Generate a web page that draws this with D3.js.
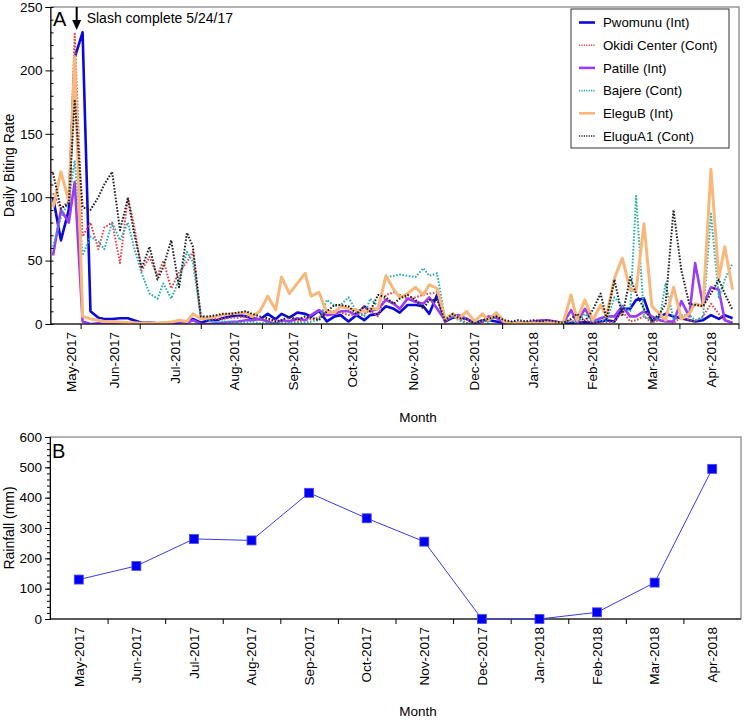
<!DOCTYPE html>
<html><head><meta charset="utf-8">
<script src="https://cdn.jsdelivr.net/npm/d3@7"></script>
<style>
body{margin:0;background:#fff}
svg{display:block}
text{font-family:"Liberation Sans",Arial,Helvetica,sans-serif;fill:#000}
</style>
</head><body>
<svg id="chart" width="744" height="722"></svg>
<script>
// ---------------- DATA ----------------
const studyStart = "2017-05-16";
// sampling days after studyStart
const sampleDay = [2,6,10,13,17,21,25,28,32,36,40,43,47,51,55,58,62,66,70,73,77,81,85,88,92,96,100,103,107,111,115,118,122,126,130,133,137,141,145,148,152,156,160,163,167,171,175,178,182,186,190,193,197,201,205,208,212,216,220,223,227,231,235,238,242,246,250,253,257,261,265,268,272,276,280,283,287,291,295,298,302,306,310,313,317,321,325,328,332,336,340,343,347];

const pwomunu = [100,66,90,210,230,10,5,4,4,4.5, 4.5,3,1,1,0.5,0.5,1,1.5,2,4, 1,3,3,4.5,6,7,6,4.5,3.7,8, 3.7,8,5,9,8,6,10.5,2,6,7, 2,7,3,7,8,14,12,9,15,15, 14,8,23,2,5,6,4,0.5,3,3, 2,1,1,0.5,1,0.5,1,0.5,1,0.5, 0.5,1,1.5,1,2,3,2,12,12,19, 20,2,6,8,6,4.5,3,2,3,7, 4,7,4.5];
const okidi = [103,91,97,229,69,80,59,76,80,48, 100,79,42,53,38,50,28,41,49,57, 6,4,4,4,5,5,6,5,4,3, 3,2,3,2,3,4,5,10,10,9, 7,8,8,11,6,23,25,23,20,21, 23,24,25,1,8,4,1,0,1,3, 7,1,0.5,1,0.5,1,0.5,1,2,1, 3,0.5,3,1,0.5,1,2,10,2,3, 6,1,3,3,0.5,6,3,2,6,16, 8,3,0.5];
const patille = [54,90,80,112,2,0,0.5,0,0.5,0, 0.5,0,0.5,1,0.5,1,0.5,2,1,3, 0,0,0.5,1,1.5,2,3,3,4,2, 0,3,2,4.5,3,7,11,7,8,10, 10,7,14,10,12,19,16,12,20,17.5, 16,21,12,3,6,7,4,0.5,2,6, 5,1,0.5,1,1,2,3,3,2,0.5, 11,1,12,2,4.5,6,6,14,6,6, 10,6,3,2,2,18,6,48,15,29, 27,3,1];
const bajere = [61,84,97,129,54,69,65,59,80,66, 80,61,40,24,20,32,20,35,57,49, 5,3,1,2,2,1,1,2,0.5,1, 0.5,1,0.5,1,1,2,3,19,14,15, 21,10,6,20,14,37,38,39,38,37, 44,38,40,4,6,3,0.5,1,3,1, 7,2,1,0.5,1,1,0.5,1,0.5,1, 2,1,8,2,3,2,21,14,10,101, 6,3,5,32,4,7,7,3,5,87, 21,35,48];
const elegub = [92,120,97,211,6,4,3,2,2,1.5, 1,1,0.5,0.5,0.5,1,1.5,3,2,8, 4,5,6,7,8,8.5,9,6,10,22, 11,37,24,32,40,22,25,9,9,14, 12,11,10,12,12,38,27,21,24,29, 23,31,28,4,8,4,10,2,8,3, 9,2,0.5,0.5,1,0.5,0.5,1,0.5,1, 23,3,19,3,15,6,36,52,27,26, 79,14,8,3,29,4,8,16,14,122, 36,61,27];
const elugua1 = [119,91,95,177,92,90,100,110,120,74, 99,73,44,61,35,45,66,29,72,61, 6,6,7,8,8,9,10,8,6,4.5, 2,3,6,3,6,5,3,10,15,15, 14,8,14,10,23,21,16,20,23,19, 12,19,19,3,8,4.5,4,0.5,3,4, 6,3,2,3,2,3,2,3,2,1, 4,8,2,11,24,4,35,6,37,24, 12,3,8,16,90,42,16,15,14,24, 35,24,11];

const seriesNames = ["Pwomunu (Int)","Okidi Center (Cont)","Patille (Int)","Bajere (Cont)","EleguB (Int)","EluguA1 (Cont)"];
const seriesValues = [pwomunu, okidi, patille, bajere, elegub, elugua1];

const monthTicks = ["2017-06-01","2017-07-01","2017-08-01","2017-09-01","2017-10-01","2017-11-01","2017-12-01","2018-01-01","2018-02-01","2018-03-01","2018-04-01","2018-05-01"];
const monthLabels = ["May-2017","Jun-2017","Jul-2017","Aug-2017","Sep-2017","Oct-2017","Nov-2017","Dec-2017","Jan-2018","Feb-2018","Mar-2018","Apr-2018"];
const monthLabelDates = ["2017-05-27","2017-06-18","2017-07-19","2017-08-18","2017-09-17","2017-10-17","2017-11-17","2017-12-18","2018-01-17","2018-02-16","2018-03-18","2018-04-17"];
const biteTicks = [0,50,100,150,200,250];

const slashDate = "2017-05-30";
const slashText = "Slash complete 5/24/17";

const rainfall = [130,175,264,259,416,332,255,0,0,22,120,495];
const rainTicks = [0,100,200,300,400,500,600];

// ---------------- STYLES ----------------
const styles = [
  {color:"#0a0ad8", width:2.6, dash:null},
  {color:"#e0464e", width:2, dash:"1.6,1.6"},
  {color:"#9a3cf2", width:2.6, dash:null},
  {color:"#2aaeb0", width:2, dash:"1.6,1.6"},
  {color:"#f8b87c", width:3, dash:null},
  {color:"#222222", width:2, dash:"1.6,1.6"}
];
const FS = 13.5;

const parse = d3.timeParse("%Y-%m-%d");
const svg = d3.select("#chart");
svg.append("rect").attr("width",744).attr("height",722).attr("fill","#fff");

// ================= PANEL A =================
const A = {l:50.5, r:739, t:7, b:324};
const x = d3.scaleTime()
  .domain([new Date(2017,4,16,17), new Date(2018,4,1,6)])
  .range([A.l, A.r]);
const y = d3.scaleLinear().domain([0,250]).range([A.b, A.t]);
const start = parse(studyStart);
const dates = sampleDay.map(d => d3.timeDay.offset(start, d));

svg.append("defs").append("clipPath").attr("id","clipA")
  .append("rect").attr("x",A.l).attr("y",A.t-3).attr("width",A.r-A.l).attr("height",A.b-A.t+3);

svg.append("rect").attr("x",A.l).attr("y",A.t).attr("width",A.r-A.l).attr("height",A.b-A.t)
  .attr("fill","none").attr("stroke","#666").attr("stroke-width",1);

const line = d3.line().x(d=>x(d.date)).y(d=>y(d.v));
const gLines = svg.append("g").attr("clip-path","url(#clipA)");
seriesValues.forEach((vals,k)=>{
  const pts = vals.map((v,i)=>({date:dates[i], v}));
  gLines.append("path").datum(pts)
    .attr("d",line).attr("fill","none")
    .attr("stroke",styles[k].color).attr("stroke-width",styles[k].width)
    .attr("stroke-linejoin","round")
    .attr("stroke-dasharray",styles[k].dash);
});

// y axis A
const yAx = svg.append("g").attr("transform",`translate(${A.l},0)`)
  .call(d3.axisLeft(y).tickValues(biteTicks).tickSize(5).tickPadding(3));
yAx.selectAll("text").style("font-size",FS+"px");
svg.append("g").attr("transform",`translate(${A.l},0)`)
  .call(d3.axisLeft(y).tickValues(d3.range(0,251,10)).tickSize(-3).tickFormat(""))
  .call(g=>g.select(".domain").remove());

// x axis A
const xAx = svg.append("g").attr("transform",`translate(0,${A.b})`)
  .call(d3.axisBottom(x).tickValues(monthTicks.map(parse)).tickSize(5).tickFormat(""));
xAx.select(".domain").attr("d",`M${A.l},0H${A.r}`);
[yAx, xAx].forEach(g=>g.selectAll("line,path").attr("stroke","#000"));

svg.append("g").selectAll("text").data(monthLabels).join("text")
  .attr("transform",(d,i)=>`translate(${x(parse(monthLabelDates[i]))},${A.b+8}) rotate(-90)`)
  .attr("text-anchor","end").attr("dy","0.35em").style("font-size",FS+"px").text(d=>d);

svg.append("text").attr("x",418).attr("y",422).attr("text-anchor","middle")
  .style("font-size",FS+"px").text("Month");
svg.append("text").attr("transform",`translate(14,${(A.t+A.b)/2}) rotate(-90)`)
  .attr("text-anchor","middle").style("font-size","14px").text("Daily Biting Rate");

svg.append("text").attr("x",53).attr("y",25.5).style("font-size","20px").text("A");

// arrow
const ax0 = x(parse(slashDate));
svg.append("line").attr("x1",ax0).attr("x2",ax0).attr("y1",A.t).attr("y2",22)
  .attr("stroke","#000").attr("stroke-width",2);
svg.append("path").attr("d",`M${ax0-4.5},20L${ax0+4.5},20L${ax0},30Z`).attr("fill","#000");
svg.append("text").attr("x",ax0+10).attr("y",23).style("font-size","14px").text(slashText);

// legend
const L = {x:571, y:9, w:158, h:139};
const lg = svg.append("g");
lg.append("rect").attr("x",L.x).attr("y",L.y).attr("width",L.w).attr("height",L.h)
  .attr("fill","#fff").attr("stroke","#333").attr("stroke-width",1);
seriesNames.forEach((nm,k)=>{
  const cy = L.y + 13.5 + k*22.7;
  lg.append("line").attr("x1",L.x+8).attr("x2",L.x+24).attr("y1",cy).attr("y2",cy)
    .attr("stroke",styles[k].color).attr("stroke-width",styles[k].dash?1.6:2.6)
    .attr("stroke-dasharray",styles[k].dash?"1.2,1.2":null);
  lg.append("text").attr("x",L.x+32).attr("y",cy+4.8).style("font-size","13.3px").text(nm);
});

// ================= PANEL B =================
const B = {l:50, r:741, t:437, b:619};
const xb = d3.scalePoint().domain(monthLabels).range([B.l,B.r]).padding(0.5);
const xband = d3.scaleBand().domain(monthLabels).range([B.l,B.r]);
const yb = d3.scaleLinear().domain([0,600]).range([B.b,B.t]);

svg.append("rect").attr("x",B.l).attr("y",B.t).attr("width",B.r-B.l).attr("height",B.b-B.t)
  .attr("fill","none").attr("stroke","#666").attr("stroke-width",1);

const ybAx = svg.append("g").attr("transform",`translate(${B.l},0)`)
  .call(d3.axisLeft(yb).tickValues(rainTicks).tickSize(5).tickPadding(3));
ybAx.selectAll("text").style("font-size",FS+"px");
svg.append("g").attr("transform",`translate(${B.l},0)`)
  .call(d3.axisLeft(yb).tickValues(d3.range(0,601,20)).tickSize(3).tickFormat(""))
  .call(g=>g.select(".domain").remove());

const bTicks = monthLabels.slice(1).map(m=>xband(m));
const xbAx = svg.append("g").attr("transform",`translate(0,${B.b})`)
  .call(d3.axisBottom(d3.scaleIdentity().domain([B.l,B.r])).tickValues(bTicks).tickSize(5).tickFormat(""));
xbAx.select(".domain").attr("d",`M${B.l},0H${B.r}`);
[ybAx, xbAx].forEach(g=>g.selectAll("line,path").attr("stroke","#000"));

svg.append("g").selectAll("text").data(monthLabels).join("text")
  .attr("transform",d=>`translate(${xb(d)},${B.b+8}) rotate(-90)`)
  .attr("text-anchor","end").attr("dy","0.35em").style("font-size",FS+"px").text(d=>d);

const rainPts = monthLabels.map((m,i)=>({m, v:rainfall[i]}));
svg.append("path").datum(rainPts)
  .attr("d",d3.line().x(d=>xb(d.m)).y(d=>yb(d.v)))
  .attr("fill","none").attr("stroke","#3a3ae6").attr("stroke-width",1);
svg.append("g").selectAll("rect").data(rainPts).join("rect")
  .attr("x",d=>xb(d.m)-4.5).attr("y",d=>yb(d.v)-4.5).attr("width",9).attr("height",9)
  .attr("fill","#0000f0").attr("stroke","#4a4aff").attr("stroke-width",0.8);

svg.append("text").attr("x",418).attr("y",716).attr("text-anchor","middle")
  .style("font-size",FS+"px").text("Month");
svg.append("text").attr("transform",`translate(14,${(B.t+B.b)/2}) rotate(-90)`)
  .attr("text-anchor","middle").style("font-size","14px").text("Rainfall (mm)");
svg.append("text").attr("x",52).attr("y",458).style("font-size","20px").text("B");
</script>
</body></html>
